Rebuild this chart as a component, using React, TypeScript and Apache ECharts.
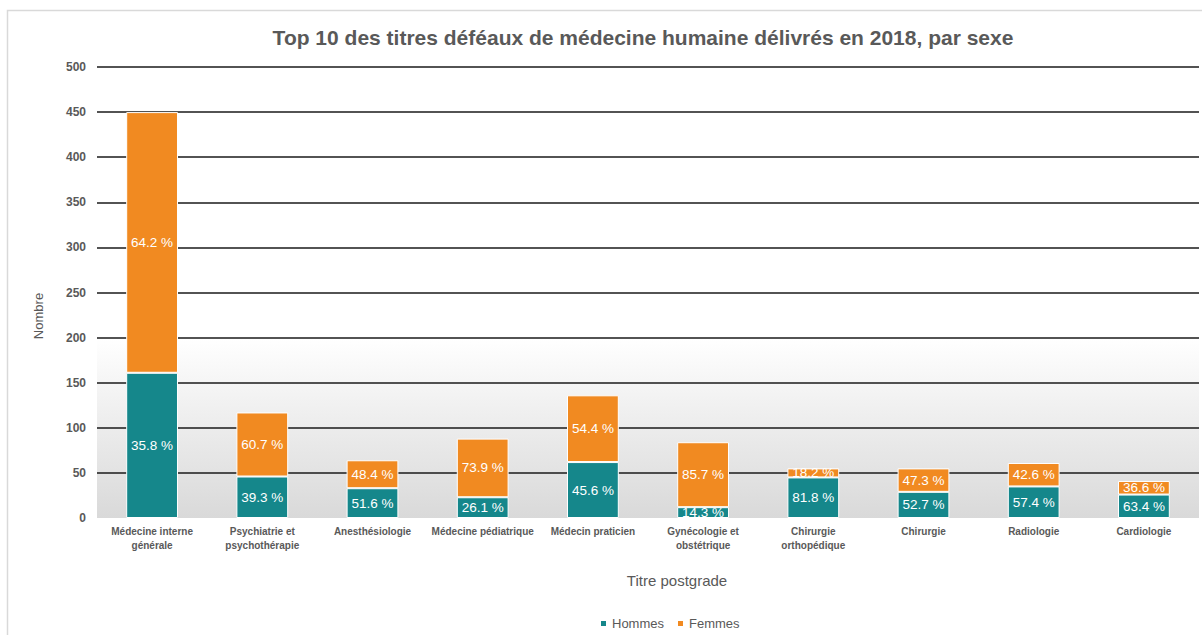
import React, { useEffect, useRef } from "react";
import * as echarts from "echarts";

const categories = [
  "Médecine interne\ngénérale",
  "Psychiatrie et\npsychothérapie",
  "Anesthésiologie",
  "Médecine pédiatrique",
  "Médecin praticien",
  "Gynécologie et\nobstétrique",
  "Chirurgie\northopédique",
  "Chirurgie",
  "Radiologie",
  "Cardiologie",
];
const hommes = [161, 46, 33, 23, 62, 12, 45, 29, 35, 26];
const femmes = [289, 71, 31, 65, 74, 72, 10, 26, 26, 15];
const yTicks = { min: 0, max: 500, interval: 50 };

const TEXT = "#595959";
const FONT = "'Liberation Sans', Arial, sans-serif";

export default function App() {
  const ref = useRef<HTMLDivElement>(null);
  useEffect(() => {
    if (!ref.current) return;
    const chart = echarts.init(ref.current, null, { renderer: "svg" });
    const pct = (i: number, which: "h" | "f") => {
      const t = hommes[i] + femmes[i];
      const v = which === "h" ? hommes[i] : femmes[i];
      return ((v / t) * 100).toFixed(1) + " %";
    };
    const labelStyle = {
      show: true,
      position: "inside",
      color: "#ffffff",
      fontSize: 13.5,
      fontFamily: FONT,
    };
    chart.setOption({
      animation: false,
      textStyle: { fontFamily: FONT },
      grid: {
        left: 97,
        right: 3,
        top: 67,
        bottom: 117,
        show: true,
        borderWidth: 0,
        backgroundColor: new echarts.graphic.LinearGradient(0, 0, 0, 1, [
          { offset: 0, color: "#ffffff" },
          { offset: 0.6, color: "#ffffff" },
          { offset: 1, color: "#d9d9d9" },
        ]),
      },
      legend: {
        left: 594,
        top: 612,
        icon: "rect",
        itemWidth: 7,
        itemHeight: 7,
        itemGap: 12,
        textStyle: { color: TEXT, fontSize: 13, fontFamily: FONT },
        data: ["Hommes", "Femmes"],
      },
      xAxis: {
        type: "category",
        data: categories,
        axisLine: { show: false },
        axisTick: { show: false },
        axisLabel: {
          color: TEXT,
          fontSize: 10,
          fontWeight: "bold",
          fontFamily: FONT,
          lineHeight: 14,
          margin: 6,
          interval: 0,
        },
      },
      yAxis: {
        type: "value",
        min: yTicks.min,
        max: yTicks.max,
        interval: yTicks.interval,
        axisLine: { show: false },
        axisTick: { show: false },
        axisLabel: {
          color: TEXT,
          fontSize: 12,
          fontWeight: "bold",
          fontFamily: FONT,
          margin: 11,
        },
        splitLine: {
          show: true,
          showMinLine: false,
          lineStyle: { color: "#1a1a1a", width: 1.5 },
        },
      },
      series: [
        {
          name: "Hommes",
          type: "bar",
          stack: "total",
          barWidth: "47%",
          data: hommes,
          itemStyle: { color: "#15878b", borderColor: "#ffffff", borderWidth: 1 },
          label: { ...labelStyle, formatter: (p: any) => pct(p.dataIndex, "h") },
        },
        {
          name: "Femmes",
          type: "bar",
          stack: "total",
          barWidth: "47%",
          data: femmes,
          itemStyle: { color: "#f18a21", borderColor: "#ffffff", borderWidth: 1 },
          label: { ...labelStyle, formatter: (p: any) => pct(p.dataIndex, "f") },
        },
      ],
      graphic: [
        {
          type: "rect",
          z: -10,
          silent: true,
          shape: { x: 7.5, y: 10.5, width: 1400, height: 800 },
          style: { fill: "none", stroke: "#d9d9d9", lineWidth: 1.5 },
        },
        {
          type: "text",
          x: 643,
          y: 37,
          style: {
            text: "Top 10 des titres déféaux de médecine humaine délivrés en 2018, par sexe",
            fill: TEXT,
            font: `bold 21px ${FONT}`,
            textAlign: "center",
            textVerticalAlign: "middle",
          },
        },
        {
          type: "text",
          x: 38,
          y: 316,
          rotation: Math.PI / 2,
          style: {
            text: "Nombre",
            fill: TEXT,
            font: `13px ${FONT}`,
            textAlign: "center",
            textVerticalAlign: "middle",
          },
        },
        {
          type: "text",
          x: 677,
          y: 580,
          style: {
            text: "Titre postgrade",
            fill: TEXT,
            font: `15px ${FONT}`,
            textAlign: "center",
            textVerticalAlign: "middle",
          },
        },
      ],
    });
    return () => chart.dispose();
  }, []);
  return (
    <div
      ref={ref}
      style={{ position: "absolute", left: 0, top: 0, width: 1202, height: 635 }}
    />
  );
}
